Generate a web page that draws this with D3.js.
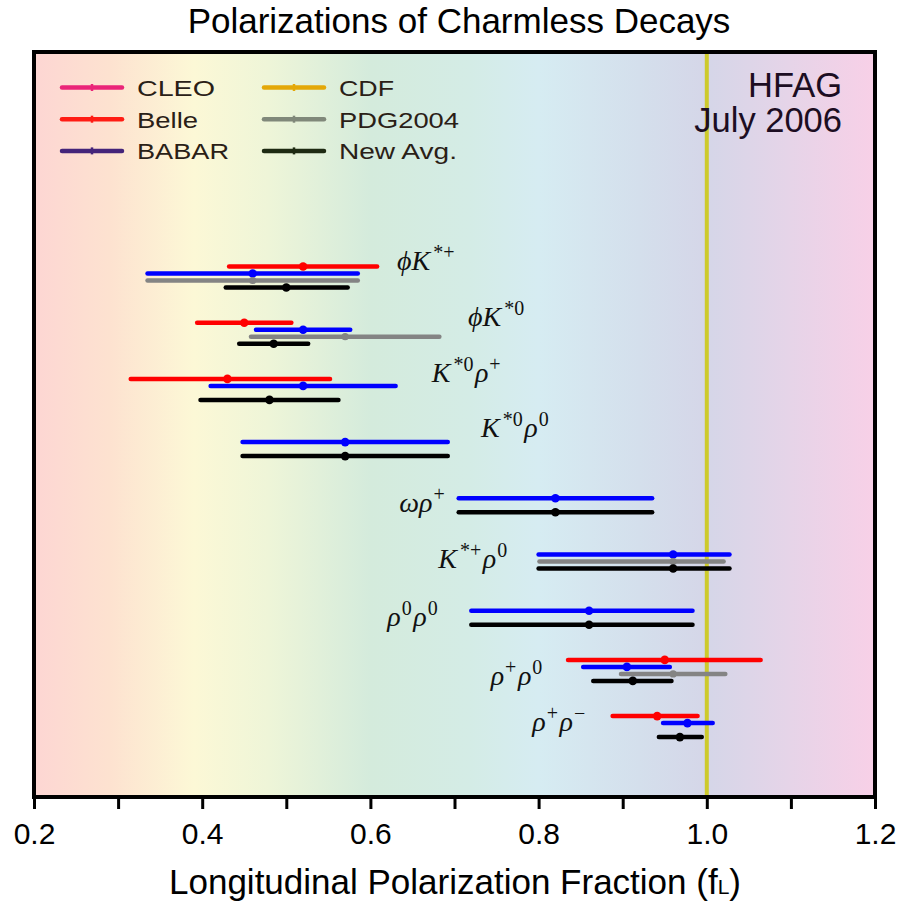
<!DOCTYPE html>
<html>
<head>
<meta charset="utf-8">
<script src="https://cdn.jsdelivr.net/npm/d3@7"></script>
<style>
  body { margin: 0; background: #fff; }
  text { font-family: "Liberation Sans", Arial, Helvetica, sans-serif; }
</style>
</head>
<body>
<svg id="chart" width="915" height="917"></svg>
<script>
// Decay modes, top to bottom; ^{...} marks a superscript
const decays = ["ϕK^{*+}", "ϕK^{*0}", "K^{*0}ρ^{+}", "K^{*0}ρ^{0}", "ωρ^{+}",
                "K^{*+}ρ^{0}", "ρ^{0}ρ^{0}", "ρ^{+}ρ^{0}", "ρ^{+}ρ^{−}"];

// Measurements per decay: [fL, minus error, plus error]; null = no measurement
const belle   = [[0.52, 0.088, 0.088], [0.45, 0.056, 0.056], [0.43, 0.115, 0.122], null, null, null, null,
                 [0.95, 0.115, 0.114], [0.941, 0.053, 0.048]];
const babar   = [[0.46, 0.125, 0.125], [0.52, 0.056, 0.056], [0.52, 0.110, 0.110], [0.57, 0.122, 0.122],
                 [0.82, 0.115, 0.115], [0.96, 0.160, 0.067], [0.86, 0.140, 0.123], [0.905, 0.052, 0.051],
                 [0.977, 0.029, 0.030]];
const pdg2004 = [[0.46, 0.125, 0.125], [0.57, 0.112, 0.112], null, null, null, [0.96, 0.159, 0.060], null,
                 [0.96, 0.062, 0.062], null];
const newAvg  = [[0.50, 0.072, 0.073], [0.485, 0.041, 0.041], [0.48, 0.082, 0.082], [0.57, 0.122, 0.122],
                 [0.82, 0.115, 0.115], [0.96, 0.160, 0.067], [0.86, 0.140, 0.123], [0.912, 0.047, 0.046],
                 [0.968, 0.025, 0.026]];

const seriesNames = ["Belle", "BABAR", "PDG2004", "New Avg."];
const seriesData  = [belle, babar, pdg2004, newAvg];

const legendNames = ["CLEO", "Belle", "BABAR", "CDF", "PDG2004", "New Avg."];

const xTicks = [0.2, 0.3, 0.4, 0.5, 0.6, 0.7, 0.8, 0.9, 1.0, 1.1, 1.2];
const xTickLabels = ["0.2", "", "0.4", "", "0.6", "", "0.8", "", "1.0", "", "1.2"];

// ---- layout & style ----
const svg = d3.select("#chart");
const frame = { left: 34, right: 875, top: 52, bottom: 797 };

const x = d3.scaleLinear().domain([0.2, 1.2]).range([frame.left, frame.right]);
const y = d3.scalePoint().domain(decays).range([266.5, 716.1]);
const slot = d3.scalePoint().domain(seriesNames).range([0, 21]);

const barColor = { "Belle": "#ff0000", "BABAR": "#0000ff", "PDG2004": "#848484", "New Avg.": "#000000" };
const legendColor = { "CLEO": "#ea2478", "Belle": "#ff1c14", "BABAR": "#44247a",
                      "CDF": "#e4a808", "PDG2004": "#80887a", "New Avg.": "#1e2a12" };

// background colour band along the fL axis
const defs = svg.append("defs");
const grad = defs.append("linearGradient").attr("id", "bg")
  .attr("gradientUnits", "userSpaceOnUse")
  .attr("x1", frame.left).attr("x2", frame.right).attr("y1", 0).attr("y2", 0);
[[0.0, "#fdd6d3"], [0.09, "#fde2d0"], [0.19, "#fcf8d6"], [0.28, "#eef5d8"], [0.4, "#d4ebdc"],
 [0.52, "#d4ece6"], [0.6, "#d6ecf2"], [0.72, "#d4dfec"], [0.8, "#d5d6e8"], [0.9, "#e6d4e8"], [1.0, "#f8d0e7"]]
  .forEach(([o, c]) => grad.append("stop").attr("offset", o).attr("stop-color", c));

svg.append("rect")
  .attr("x", frame.left).attr("y", frame.top)
  .attr("width", frame.right - frame.left).attr("height", frame.bottom - frame.top)
  .attr("fill", "url(#bg)");

// fL = 1 reference line
svg.append("line")
  .attr("x1", x(1.0)).attr("x2", x(1.0))
  .attr("y1", frame.top).attr("y2", frame.bottom)
  .attr("stroke", "#cdca2c").attr("stroke-width", 4);

// error bars
seriesNames.forEach((name, si) => {
  const rows = seriesData[si]
    .map((d, i) => d ? { decay: decays[i], v: d[0], lo: d[0] - d[1], hi: d[0] + d[2] } : null)
    .filter(d => d);
  const g = svg.append("g").attr("class", "series");
  g.selectAll("line").data(rows).join("line")
    .attr("x1", d => x(d.lo)).attr("x2", d => x(d.hi))
    .attr("y1", d => y(d.decay) + slot(name)).attr("y2", d => y(d.decay) + slot(name))
    .attr("stroke", barColor[name]).attr("stroke-width", 4.5).attr("stroke-linecap", "round");
  g.selectAll("circle").data(rows).join("circle")
    .attr("cx", d => x(d.v)).attr("cy", d => y(d.decay) + slot(name))
    .attr("r", name === "PDG2004" ? 3.6 : 4.3)
    .attr("fill", barColor[name]);
});

// decay-mode labels (math style)
const labelAnchor = [[0.6316, 3], [0.716, 3], [0.6729, 3], [0.7315, 2], [0.6344, 21],
                     [0.6808, 20], [0.620, 22], [0.743, 25], [0.7925, 15]];
decays.forEach((lab, i) => {
  const t = svg.append("text")
    .attr("x", x(labelAnchor[i][0])).attr("y", y(lab) + labelAnchor[i][1])
    .style("font-family", "'Liberation Serif', 'DejaVu Serif', serif")
    .style("font-size", "28px").attr("fill", "#111");
  const parts = lab.split(/\^\{([^}]*)\}/);
  let raised = false, prev = "";
  parts.forEach((p, k) => {
    if (!p) return;
    const isSup = k % 2 === 1;
    const ts = t.append("tspan").text(p);
    if (isSup) {
      ts.attr("dy", raised ? 0 : -11).attr("dx", prev.endsWith("K") ? 3 : 1)
        .style("font-size", "20px").style("font-style", "normal");
      raised = true;
    } else {
      ts.attr("dy", raised ? 11 : 0).attr("dx", raised ? 1.5 : 0).style("font-style", "italic");
      raised = false;
    }
    prev = p;
  });
});

// frame
svg.append("rect")
  .attr("x", frame.left).attr("y", frame.top)
  .attr("width", frame.right - frame.left).attr("height", frame.bottom - frame.top)
  .attr("fill", "none").attr("stroke", "#000").attr("stroke-width", 4);

// x axis
const axis = d3.axisBottom(x).tickValues(xTicks)
  .tickFormat((d, i) => xTickLabels[i]).tickSize(12).tickPadding(14);
const ax = svg.append("g").attr("transform", `translate(0,${frame.bottom})`).call(axis);
ax.select(".domain").remove();
ax.selectAll(".tick line").attr("stroke", "#000").attr("stroke-width", 3);
ax.selectAll(".tick text").attr("fill", "#000")
  .style("font-family", "'Liberation Sans', Arial, sans-serif").style("font-size", "30px");

// titles
svg.append("text").attr("x", 459).attr("y", 33).attr("text-anchor", "middle")
  .style("font-size", "35px").attr("fill", "#000").text("Polarizations of Charmless Decays");

const xt = svg.append("text").attr("x", 455).attr("y", 894).attr("text-anchor", "middle")
  .style("font-size", "35px").attr("fill", "#000");
xt.append("tspan").text("Longitudinal Polarization Fraction (f");
xt.append("tspan").text("L").style("font-size", "21px");
xt.append("tspan").text(")");

svg.append("text").attr("x", 842).attr("y", 97).attr("text-anchor", "end")
  .style("font-size", "34.5px").attr("fill", "#1c0d22").text("HFAG");
svg.append("text").attr("x", 842).attr("y", 132).attr("text-anchor", "end")
  .style("font-size", "34.5px").attr("fill", "#1c0d22").text("July 2006");

// legend: two columns of three
const legendWidth = { "CLEO": 78, "Belle": 61, "BABAR": 92, "CDF": 55, "PDG2004": 120, "New Avg.": 118 };
legendNames.forEach((name, i) => {
  const col = Math.floor(i / 3), row = i % 3;
  const x0 = col === 0 ? 62 : 264, ly = 87.5 + row * 31.7;
  svg.append("line").attr("x1", x0).attr("x2", x0 + 60).attr("y1", ly).attr("y2", ly)
    .attr("stroke", legendColor[name]).attr("stroke-width", 4.5).attr("stroke-linecap", "round");
  svg.append("line").attr("x1", x0 + 30).attr("x2", x0 + 30).attr("y1", ly - 3.5).attr("y2", ly + 3.5)
    .attr("stroke", legendColor[name]).attr("stroke-width", 2.5);
  svg.append("text").attr("x", x0 + 75).attr("y", ly + 8.5)
    .attr("textLength", legendWidth[name]).attr("lengthAdjust", "spacingAndGlyphs")
    .style("font-size", "22px").attr("fill", "#2a2016").text(name);
});
</script>
</body>
</html>
